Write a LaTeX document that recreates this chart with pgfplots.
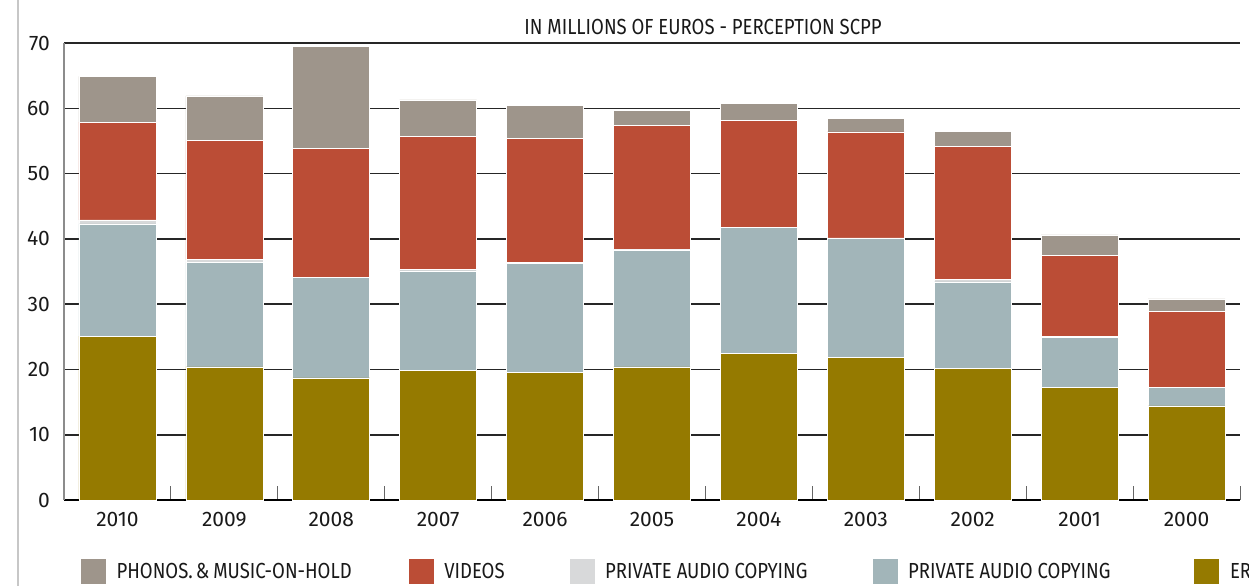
\documentclass[border=0pt]{standalone}
\usepackage{fontspec}
\setmainfont{Fira Sans}
\newfontfamily\condfont{Fira Sans}[FakeStretch=0.85]
\usepackage{pgfplots}
\pgfplotsset{compat=1.18}
\definecolor{cOlive}{RGB}{149,122,0}
\definecolor{cBlue}{RGB}{162,181,185}
\definecolor{cLgray}{RGB}{216,217,218}
\definecolor{cRed}{RGB}{187,77,54}
\definecolor{cGray}{RGB}{158,149,139}
\begin{document}
\begin{tikzpicture}
\useasboundingbox (-32pt,-42.5pt) rectangle (592.5pt,250pt);
\clip (-32pt,-42.5pt) rectangle (592.5pt,250pt);
\draw[black!22, line width=1.2pt] (-23pt,-43pt) -- (-23pt,251pt);
\begin{axis}[
  at={(0,0)}, anchor=south west,
  scale only axis, width=588pt, height=228.5pt,
  xmin=-0.5, xmax=10.5, ymin=0, ymax=70,
  ybar stacked, bar width=0.72,
  axis x line*=bottom, axis y line*=left,
  x axis line style={black, line width=0.6pt, -},
  y axis line style={black!45, line width=1pt, -},
  xtick={0,...,10},
  xticklabels={2010,2009,2008,2007,2006,2005,2004,2003,2002,2001,2000},
  major x tick style={draw=none},
  minor xtick={-0.5,0.5,...,10.5},
  minor x tick style={black!60, line width=0.5pt},
  minor tick length=7pt, tick align=inside,
  ytick={0,10,...,70},
  ytick style={draw=none},
  ymajorgrids,
  major grid style={black!85, line width=0.8pt},
  /pgf/number format/assume math mode=true,
  ticklabel style={font=\fontsize{10.5}{12}\selectfont, text=black!90},
  xticklabel style={yshift=-2.5pt},
  yticklabel style={xshift=-3.5pt},
  title={\condfont IN MILLIONS OF EUROS - PERCEPTION SCPP},
  title style={at={(0.5434,1)}, anchor=base, yshift=-1.5pt, font=\fontsize{10.9}{12}\selectfont, text=black!90},
  legend columns=5, reverse legend,
  legend style={at={(rel axis cs:0,0)}, anchor=north west, xshift=8pt, yshift=-29pt,
    draw=none, fill=none, inner sep=0pt, outer sep=0pt,
    font=\condfont\fontsize{10.9}{12}\selectfont, text=black!90,
    /tikz/every odd column/.append style={column sep=5pt},
    /tikz/every even column/.append style={column sep=28pt},
    nodes={inner sep=0pt}},
  legend cell align=left,
  legend image code/.code={\fill[#1] (0pt,-6pt) rectangle (13pt,7pt);},
  every axis plot/.append style={draw=white, line width=0.3pt},
]
\addplot[fill=cOlive] coordinates {(0,25.1) (1,20.4) (2,18.7) (3,19.8) (4,19.6) (5,20.4) (6,22.5) (7,21.8) (8,20.1) (9,17.2) (10,14.4)};
\addlegendentry{ER}
\addplot[fill=cBlue] coordinates {(0,17.2) (1,16.0) (2,15.4) (3,15.3) (4,16.7) (5,17.9) (6,19.2) (7,18.3) (8,13.3) (9,7.7) (10,2.85)};
\addlegendentry{PRIVATE AUDIO COPYING\kern13.5pt}
\addplot[fill=cLgray] coordinates {(0,0.6) (1,0.4) (2,0.05) (3,0.25) (4,0.05) (5,0.1) (6,0.05) (7,0.05) (8,0.4) (9,0.1) (10,0.05)};
\addlegendentry{PRIVATE AUDIO COPYING\kern4pt}
\addplot[fill=cRed] coordinates {(0,15.0) (1,18.3) (2,19.65) (3,20.35) (4,19.05) (5,19.0) (6,16.45) (7,16.25) (8,20.4) (9,12.5) (10,11.6)};
\addlegendentry{VIDEOS\kern4pt}
\addplot[fill=cGray] coordinates {(0,7.0) (1,6.8) (2,15.7) (3,5.6) (4,5.1) (5,2.3) (6,2.6) (7,2.1) (8,2.3) (9,3.1) (10,1.9)};
\addlegendentry{PHONOS.\kern1.5pt\&\kern2pt MUSIC-ON-HOLD}
\end{axis}
\end{tikzpicture}
\end{document}
